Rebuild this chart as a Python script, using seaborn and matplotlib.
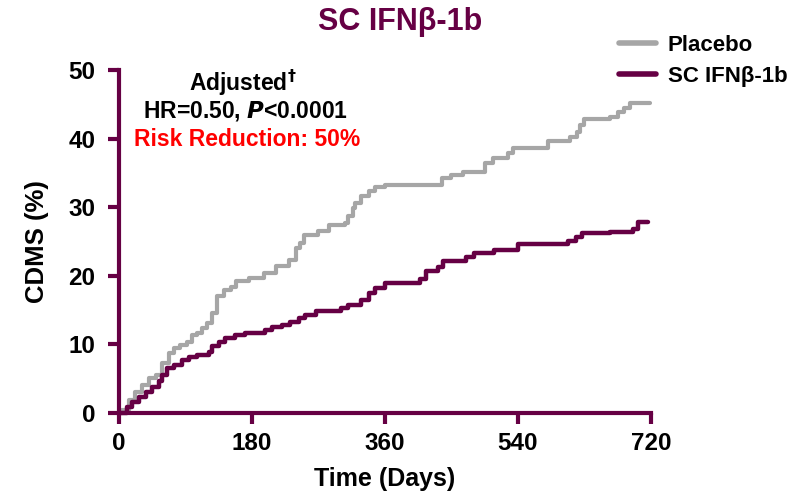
import matplotlib
matplotlib.use("Agg")
import matplotlib.pyplot as plt
from matplotlib.lines import Line2D
import seaborn as sns
import pandas as pd

# Placebo step curve (days, cumulative % CDMS)
placebo_days = [0, 4, 13, 22, 31, 40, 50, 58, 68, 74, 83, 92, 99, 105, 112, 119, 126, 132, 142,
                151, 159, 176, 196, 212, 230, 239, 245, 250, 270, 284, 306, 310, 317, 320, 328,
                338, 347, 360, 437, 450, 465, 495, 506, 527, 533, 580, 610, 620, 624, 630, 664,
                675, 684, 691, 718]
placebo_cdms = [0, 0.4, 1.9, 3.1, 4.1, 5.1, 5.5, 7.3, 8.7, 9.5, 9.9, 10.4, 11.4, 11.7, 12.4, 13.1,
                14.6, 17.0, 17.9, 18.4, 19.2, 19.7, 20.4, 21.4, 22.3, 24.1, 24.8, 26.0, 26.5, 27.4,
                27.7, 28.7, 29.9, 30.6, 31.6, 32.3, 33.0, 33.3, 34.2, 34.7, 35.2, 36.4, 37.1, 37.9,
                38.7, 39.6, 40.3, 41.0, 42.0, 42.8, 43.2, 43.9, 44.5, 45.2, 45.2]

# SC IFNb-1b step curve
ifn_days = [0, 11, 18, 27, 36, 45, 54, 58, 65, 74, 85, 95, 105, 122, 126, 135, 144, 157, 171,
            198, 207, 220, 232, 243, 252, 266, 301, 310, 328, 338, 347, 360, 407, 416, 432, 438,
            470, 481, 508, 540, 607, 619, 626, 664, 695, 703, 716]
ifn_cdms = [0, 0.9, 1.6, 2.4, 3.1, 3.8, 4.6, 5.5, 6.5, 7.0, 7.7, 8.2, 8.5, 8.9, 9.7, 10.4, 10.9,
            11.4, 11.6, 12.1, 12.6, 12.8, 13.3, 13.8, 14.3, 14.8, 15.3, 15.8, 16.5, 17.5, 18.2,
            19.0, 19.6, 20.7, 21.3, 22.2, 22.7, 23.3, 23.7, 24.7, 25.1, 25.6, 26.2, 26.4, 26.8,
            27.9, 27.9]

x_ticks = [0, 180, 360, 540, 720]
y_ticks = [0, 10, 20, 30, 40, 50]

PURPLE = "#660044"
GREY = "#A6A6A6"

df = pd.concat([
    pd.DataFrame({"Days": placebo_days, "CDMS": placebo_cdms, "Group": "Placebo"}),
    pd.DataFrame({"Days": ifn_days, "CDMS": ifn_cdms, "Group": "SC IFNβ-1b"}),
])

sns.set_style("white")
plt.rcParams["font.family"] = ["Liberation Sans", "DejaVu Sans"]
plt.rcParams["font.weight"] = "bold"
plt.rcParams["text.color"] = "black"

fig = plt.figure(figsize=(8.03, 4.93), dpi=100)
ax = fig.add_axes([119 / 803, 1 - 413 / 493, (651 - 119) / 803, (413 - 70) / 493])

sns.lineplot(data=df, x="Days", y="CDMS", hue="Group", palette={"Placebo": GREY, "SC IFNβ-1b": PURPLE},
             drawstyle="steps-post", linewidth=3, ax=ax, legend=False, clip_on=False)
for ln, lw in zip(ax.lines, [3, 3.2]):
    ln.set_linewidth(lw)

ax.set_xlim(0, 720)
ax.set_ylim(0, 50)
ax.set_xticks(x_ticks)
ax.set_yticks(y_ticks)
ax.set_xticklabels([str(t) for t in x_ticks], fontsize=17.5, fontweight="bold", color="black")
ax.set_yticklabels([str(t) for t in y_ticks], fontsize=17.5, fontweight="bold", color="black")
for side in ["top", "right"]:
    ax.spines[side].set_visible(False)
for side in ["left", "bottom"]:
    ax.spines[side].set_color(PURPLE)
    ax.spines[side].set_linewidth(3)
ax.tick_params(axis="both", direction="out", length=8, width=3, color=PURPLE, left=True, bottom=True)
ax.tick_params(axis="y", pad=9)
ax.tick_params(axis="x", pad=6)
ax.set_xlabel("Time (Days)", fontsize=18, fontweight="bold", labelpad=8, color="black")
ax.set_ylabel("CDMS (%)", fontsize=18.5, fontweight="bold", labelpad=14, color="black")

fig.text(400 / 803, 1 - 22 / 493, "SC IFNβ-1b", ha="center", va="center", fontsize=22,
         fontweight="bold", color=PURPLE)

fig.text(243 / 803, 1 - 83 / 493, "Adjusted$^{\\dagger}$", ha="center", va="center",
         fontsize=16.5, fontweight="bold", color="black")
fig.text(246 / 803, 1 - 111 / 493, "HR=0.50, $\\bfit{P}$<0.0001", ha="center",
         va="center", fontsize=16.5, fontweight="bold", color="black")
fig.text(247 / 803, 1 - 139 / 493, "Risk Reduction: 50%", ha="center",
         va="center", fontsize=16.5, fontweight="bold", color="#FF0000")

handles = [Line2D([0], [0], color=GREY, lw=4), Line2D([0], [0], color=PURPLE, lw=4)]
fig.legend(handles, ["Placebo", "SC IFNβ-1b"], loc="upper left", bbox_to_anchor=(619 / 803, 1 - 35 / 493),
           frameon=False, prop={"size": 16, "weight": "bold"}, handlelength=1.65, handletextpad=0.55,
           labelspacing=0.45, borderaxespad=0, borderpad=0)

fig.savefig("out.png", dpi=100)
